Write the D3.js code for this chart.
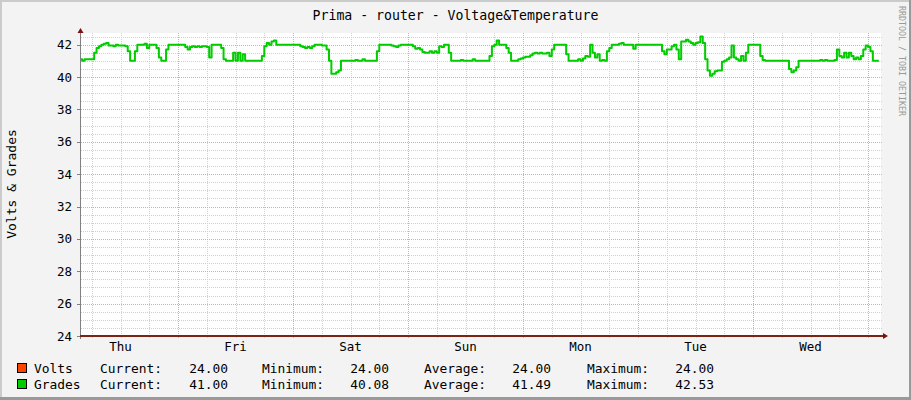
<!DOCTYPE html>
<html>
<head>
<meta charset="utf-8">
<script src="https://cdn.jsdelivr.net/npm/d3@7"></script>
<style>
  html, body { margin: 0; padding: 0; background: #f3f3f3; }
  svg { display: block; }
  text { font-family: "DejaVu Sans Mono", monospace; fill: #000; }
</style>
</head>
<body>
<div id="rrd-graph"></div>
<script>
// Données

const title = "Prima - router - Voltage&Temperature";
const yLabel = "Volts & Grades";
const watermark = "RRDTOOL / TOBI OETIKER";

const dayLabels = ["Thu", "Fri", "Sat", "Sun", "Mon", "Tue", "Wed"];
const yTicks = [24, 26, 28, 30, 32, 34, 36, 38, 40, 42];

const seriesNames = ["Volts", "Grades"];
const seriesColors = ["#ff4400", "#00cc00"];
const statCurrent = [24.00, 41.00];
const statMinimum = [24.00, 40.08];
const statAverage = [24.00, 41.49];
const statMaximum = [24.00, 42.53];

// premier échantillon (jeudi 03:45), un point toutes les 30 minutes
const startTime = new Date(2024, 0, 4, 3, 45);
const stepMinutes = 30;

const grades = [
  41.1, 41.0, 41.1, 41.1, 41.1, 41.1, 41.5, 41.8, 41.9, 42.0,
  42.05, 42.1, 41.95, 41.95, 41.9, 42.0, 41.95, 41.95, 41.95, 41.9,
  41.6, 41.0, 41.0, 41.6, 42.0, 42.0, 42.0, 42.05, 41.8, 42.0,
  42.0, 42.0, 41.8, 41.2, 41.0, 41.0, 41.7, 42.0, 42.0, 42.0,
  42.0, 42.0, 42.0, 42.0, 41.85, 41.7, 41.85, 41.9, 41.85, 41.9,
  41.85, 41.9, 41.9, 41.85, 41.2, 42.0, 42.0, 42.0, 42.0, 41.8,
  41.1, 41.0, 41.0, 41.0, 41.5, 41.0, 41.5, 41.0, 41.4, 41.0,
  41.0, 41.0, 41.0, 41.0, 41.0, 41.0, 41.3, 41.9, 42.1, 42.0,
  42.2, 42.25, 42.0, 42.0, 42.0, 42.0, 42.0, 42.0, 42.0, 42.0,
  42.0, 42.0, 41.9, 41.85, 41.8, 41.85, 41.8, 41.9, 42.0, 42.0,
  42.0, 41.95, 41.95, 41.7, 41.0, 40.2, 40.2, 40.3, 40.4, 41.0,
  41.0, 41.0, 41.0, 41.0, 41.0, 41.05, 41.0, 41.0, 41.1, 41.0,
  41.0, 41.0, 41.0, 41.0, 41.6, 42.0, 42.0, 42.0, 42.0, 42.0,
  41.95, 41.9, 41.85, 41.95, 42.0, 42.0, 42.0, 42.0, 42.0, 41.9,
  41.75, 41.8, 41.7, 41.55, 41.5, 41.5, 41.6, 41.5, 41.6, 41.5,
  41.9, 41.85, 42.0, 42.0, 41.5, 41.0, 41.0, 41.0, 41.0, 41.05,
  41.0, 41.0, 41.0, 41.0, 41.1, 41.0, 41.0, 41.0, 41.0, 41.0,
  41.0, 41.3, 41.9, 42.0, 42.25, 42.0, 42.0, 42.0, 41.8, 41.5,
  41.0, 41.0, 41.0, 41.1, 41.15, 41.2, 41.25, 41.25, 41.35, 41.45,
  41.5, 41.45, 41.5, 41.45, 41.45, 41.5, 41.3, 41.7, 42.0, 42.0,
  42.0, 42.0, 42.0, 41.4, 41.0, 41.0, 41.0, 41.0, 41.1, 41.0,
  41.15, 41.3, 41.25, 42.0, 41.5, 41.2, 41.4, 41.0, 41.05, 41.0,
  41.6, 41.8, 42.0, 42.0, 42.0, 42.05, 42.1, 42.0, 42.0, 42.0,
  42.0, 41.75, 42.0, 42.0, 42.0, 42.0, 42.0, 42.0, 42.0, 42.0,
  42.0, 42.0, 42.0, 41.6, 41.4, 41.7, 41.7, 41.9, 42.0, 41.7,
  41.1, 42.2, 42.2, 42.3, 42.2, 42.1, 42.0, 42.1, 42.15, 42.5,
  42.1, 41.1, 40.4, 40.08, 40.2, 40.35, 40.4, 40.4, 40.95, 41.0,
  41.1, 41.2, 41.95, 41.2, 41.1, 41.0, 41.3, 41.0, 41.5, 42.0,
  42.0, 42.0, 42.0, 42.0, 41.3, 41.05, 41.0, 41.0, 41.0, 41.0,
  41.0, 41.0, 41.0, 41.0, 41.0, 41.0, 40.5, 40.3, 40.4, 40.6,
  41.0, 41.0, 41.0, 41.0, 41.0, 41.0, 41.0, 41.0, 41.0, 41.05,
  41.0, 41.05, 41.0, 41.0, 41.0, 41.05, 41.7, 41.3, 41.2, 41.5,
  41.2, 41.5, 41.3, 41.1, 41.2, 41.1, 41.3, 41.7, 41.95, 41.85,
  41.6, 41.0, 41.0, 41.0
];

const volts = [
  24, 24, 24, 24, 24, 24, 24, 24, 24, 24, 24, 24, 24, 24, 24, 24, 24, 24, 24, 24, 24, 24, 24, 24,
  24, 24, 24, 24, 24, 24, 24, 24, 24, 24, 24, 24, 24, 24, 24, 24, 24, 24, 24, 24, 24, 24, 24, 24,
  24, 24, 24, 24, 24, 24, 24, 24, 24, 24, 24, 24, 24, 24, 24, 24, 24, 24, 24, 24, 24, 24, 24, 24,
  24, 24, 24, 24, 24, 24, 24, 24, 24, 24, 24, 24, 24, 24, 24, 24, 24, 24, 24, 24, 24, 24, 24, 24,
  24, 24, 24, 24, 24, 24, 24, 24, 24, 24, 24, 24, 24, 24, 24, 24, 24, 24, 24, 24, 24, 24, 24, 24,
  24, 24, 24, 24, 24, 24, 24, 24, 24, 24, 24, 24, 24, 24, 24, 24, 24, 24, 24, 24, 24, 24, 24, 24,
  24, 24, 24, 24, 24, 24, 24, 24, 24, 24, 24, 24, 24, 24, 24, 24, 24, 24, 24, 24, 24, 24, 24, 24,
  24, 24, 24, 24, 24, 24, 24, 24, 24, 24, 24, 24, 24, 24, 24, 24, 24, 24, 24, 24, 24, 24, 24, 24,
  24, 24, 24, 24, 24, 24, 24, 24, 24, 24, 24, 24, 24, 24, 24, 24, 24, 24, 24, 24, 24, 24, 24, 24,
  24, 24, 24, 24, 24, 24, 24, 24, 24, 24, 24, 24, 24, 24, 24, 24, 24, 24, 24, 24, 24, 24, 24, 24,
  24, 24, 24, 24, 24, 24, 24, 24, 24, 24, 24, 24, 24, 24, 24, 24, 24, 24, 24, 24, 24, 24, 24, 24,
  24, 24, 24, 24, 24, 24, 24, 24, 24, 24, 24, 24, 24, 24, 24, 24, 24, 24, 24, 24, 24, 24, 24, 24,
  24, 24, 24, 24, 24, 24, 24, 24, 24, 24, 24, 24, 24, 24, 24, 24, 24, 24, 24, 24, 24, 24, 24, 24,
  24, 24, 24, 24, 24, 24, 24, 24, 24, 24, 24, 24, 24, 24, 24, 24, 24, 24, 24, 24, 24, 24
];

//---------------------------------------------------------------------------------------

// Création du canevas SVG

const width = 911;
const height = 400;
const plot = { left: 81, right: 881, top: 33, bottom: 336 };

const svg = d3
  .select("#rrd-graph")
  .append("svg")
  .attr("width", width)
  .attr("height", height)
  .attr("viewBox", [0, 0, width, height]);

// fond + ombrage du cadre façon rrdtool
svg.append("rect").attr("width", width).attr("height", height).attr("fill", "#f3f3f3");
svg.append("rect").attr("x", 0).attr("y", 0).attr("width", width).attr("height", 2).attr("fill", "#cbcbcb");
svg.append("rect").attr("x", 0).attr("y", 0).attr("width", 2).attr("height", height).attr("fill", "#cbcbcb");
svg.append("rect").attr("x", width - 2).attr("y", 0).attr("width", 2).attr("height", height).attr("fill", "#999999");
svg.append("rect").attr("x", 0).attr("y", height - 3).attr("width", width).attr("height", 3).attr("fill", "#999999");

// zone de tracé
svg.append("rect")
  .attr("x", plot.left)
  .attr("y", plot.top)
  .attr("width", plot.right - plot.left)
  .attr("height", plot.bottom - plot.top)
  .attr("fill", "#ffffff");

//---------------------------------------------------------------------------------------

// Échelles

const endTime = d3.timeMinute.offset(startTime, Math.round(800 / 115 * 24 * 60));
const times = grades.map((d, i) => d3.timeMinute.offset(startTime, i * stepMinutes));

const x = d3.scaleTime().domain([startTime, endTime]).range([plot.left, plot.right]);
const y = d3.scaleLinear().domain([24, 42.72]).range([plot.bottom, plot.top]);

const px = v => Math.round(v) + 0.5;

//---------------------------------------------------------------------------------------

// Grille

const grid = svg.append("g").attr("shape-rendering", "crispEdges").attr("fill", "none");

// lignes secondaires horizontales (0.5)
const minorY = d3.range(24.5, 42.72, 0.5).filter(v => v % 2 !== 0);
grid.selectAll(".hminor")
  .data(minorY)
  .join("line")
  .attr("x1", plot.left)
  .attr("x2", plot.right + 2)
  .attr("y1", d => px(y(d)))
  .attr("y2", d => px(y(d)))
  .attr("stroke", "#d0d0d0")
  .attr("stroke-dasharray", "1,1");

// lignes secondaires verticales (6 h)
const minorX = d3.timeHour.every(6).range(startTime, endTime).filter(d => d.getHours() !== 0);
grid.selectAll(".vminor")
  .data(minorX)
  .join("line")
  .attr("x1", d => px(x(d)))
  .attr("x2", d => px(x(d)))
  .attr("y1", plot.top)
  .attr("y2", plot.bottom + 2)
  .attr("stroke", "#d0d0d0")
  .attr("stroke-dasharray", "1,1");

// lignes principales horizontales
grid.selectAll(".hmajor")
  .data(yTicks.filter(v => v !== 24))
  .join("line")
  .attr("x1", plot.left)
  .attr("x2", plot.right + 2)
  .attr("y1", d => px(y(d)))
  .attr("y2", d => px(y(d)))
  .attr("stroke", "#f2a0a0")
  .attr("stroke-dasharray", "1,1");

// lignes principales verticales (minuit)
const majorX = d3.timeDay.range(startTime, endTime);
grid.selectAll(".vmajor")
  .data(majorX)
  .join("line")
  .attr("x1", d => px(x(d)))
  .attr("x2", d => px(x(d)))
  .attr("y1", plot.top)
  .attr("y2", plot.bottom + 3)
  .attr("stroke", "#f2a0a0")
  .attr("stroke-dasharray", "1,1");

//---------------------------------------------------------------------------------------

// Courbes (en escalier, comme les pixels consolidés de rrdtool)

const line = d3.line()
  .x((d, i) => x(times[i]))
  .y(d => y(d))
  .curve(d3.curveStep);

svg.append("path")
  .datum(volts)
  .attr("d", line)
  .attr("fill", "none")
  .attr("stroke", seriesColors[0])
  .attr("stroke-width", 2);

svg.append("path")
  .datum(grades)
  .attr("d", line)
  .attr("fill", "none")
  .attr("stroke", seriesColors[1])
  .attr("stroke-width", 2)
  .attr("stroke-linejoin", "round");

//---------------------------------------------------------------------------------------

// Axes + flèches

const axes = svg.append("g").attr("shape-rendering", "crispEdges");

axes.append("line")
  .attr("x1", px(plot.left - 1)).attr("x2", px(plot.left - 1))
  .attr("y1", plot.top).attr("y2", plot.bottom + 3)
  .attr("stroke", "#808080");

axes.selectAll(".ytick")
  .data(yTicks)
  .join("line")
  .attr("x1", plot.left - 4).attr("x2", plot.left)
  .attr("y1", d => px(y(d))).attr("y2", d => px(y(d)))
  .attr("stroke", "#808080");

axes.append("line")
  .attr("x1", plot.left - 1).attr("x2", plot.right + 3)
  .attr("y1", y(24)).attr("y2", y(24))
  .attr("stroke", "#7a2414")
  .attr("stroke-width", 2);

svg.append("path")
  .attr("d", d3.line()([[plot.left - 3.5, plot.top], [plot.left + 2.5, plot.top], [plot.left - 0.5, plot.top - 5]]))
  .attr("fill", "#7f1010");

svg.append("path")
  .attr("d", d3.line()([[plot.right + 2, y(24) - 3], [plot.right + 2, y(24) + 3], [plot.right + 7, y(24)]]))
  .attr("fill", "#7f1010");

//---------------------------------------------------------------------------------------

// Libellés des axes

svg.selectAll(".ylab")
  .data(yTicks)
  .join("text")
  .attr("x", plot.left - 9)
  .attr("y", d => y(d) + 4.5)
  .attr("text-anchor", "end")
  .attr("font-size", "12.5px")
  .text(d => d);

const dayStarts = d3.timeDay.range(d3.timeDay.floor(startTime), endTime).slice(0, dayLabels.length);
svg.selectAll(".xlab")
  .data(dayLabels)
  .join("text")
  .attr("x", (d, i) => x(d3.timeHour.offset(dayStarts[i], 12)))
  .attr("y", plot.bottom + 15)
  .attr("text-anchor", "middle")
  .attr("font-size", "12.5px")
  .text(d => d);

svg.append("text")
  .attr("transform", `translate(16, 184) rotate(-90)`)
  .attr("text-anchor", "middle")
  .attr("font-size", "13px")
  .text(yLabel);

// Titre
svg.append("text")
  .attr("x", width / 2)
  .attr("y", 19.5)
  .attr("text-anchor", "middle")
  .attr("font-size", "13.2px")
  .text(title);

// Signature rrdtool
svg.append("text")
  .attr("transform", `translate(898.5, 6) rotate(90)`)
  .attr("font-size", "8.3px")
  .style("fill", "#999999")
  .text(watermark);

//---------------------------------------------------------------------------------------

// Légende

const fmt = d3.format(".2f");
const legendRows = seriesNames.map((name, i) => ({
  name: name,
  color: seriesColors[i],
  stats: [statCurrent[i], statMinimum[i], statAverage[i], statMaximum[i]]
}));
const statLabels = ["Current:", "Minimum:", "Average:", "Maximum:"];
const statLabelX = [100, 262, 424, 587];
const statValueX = [228, 389, 551, 714];

const legend = svg.selectAll(".leg")
  .data(legendRows)
  .join("g")
  .attr("transform", (d, i) => `translate(0, ${373 + i * 16})`);

legend.append("rect")
  .attr("x", 17.5).attr("y", -9.5)
  .attr("width", 9).attr("height", 9)
  .attr("fill", d => d.color)
  .attr("stroke", "#000")
  .attr("shape-rendering", "crispEdges");

legend.append("text")
  .attr("x", 34)
  .attr("font-size", "12.9px")
  .text(d => d.name);

statLabels.forEach((lab, k) => {
  legend.append("text")
    .attr("x", statLabelX[k])
    .attr("font-size", "12.9px")
    .text(lab);
  legend.append("text")
    .attr("x", statValueX[k])
    .attr("text-anchor", "end")
    .attr("font-size", "12.9px")
    .text(d => fmt(d.stats[k]));
});
</script>
</body>
</html>
